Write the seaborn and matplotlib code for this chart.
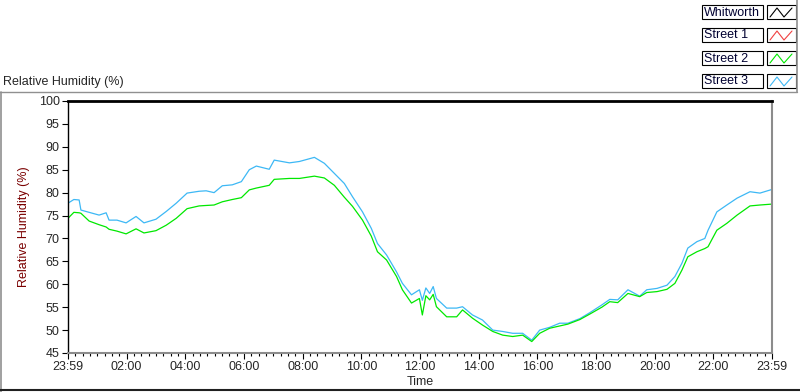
import matplotlib
matplotlib.use("Agg")
import matplotlib.pyplot as plt
from matplotlib.patches import Rectangle
from matplotlib.lines import Line2D
from matplotlib.ticker import MultipleLocator
import seaborn as sns
import pandas as pd

# --- data (hours after 23:59, relative humidity %) ---
HOURS = [0.00, 0.20, 0.38, 0.44, 0.72, 1.06, 1.30, 1.40, 1.67, 1.98,
         2.32, 2.59, 3.00, 3.35, 3.69, 4.06, 4.47, 4.71, 4.98, 5.26,
         5.60, 5.91, 6.18, 6.42, 6.86, 7.03, 7.55, 7.89, 8.40, 8.74,
         9.08, 9.42, 9.70, 10.04, 10.34, 10.55, 10.86, 11.20, 11.40, 11.71,
         11.98, 12.08, 12.20, 12.33, 12.45, 12.56, 12.91, 13.25, 13.45, 13.79,
         14.13, 14.48, 14.82, 15.16, 15.50, 15.81, 16.08, 16.42, 16.76, 17.04,
         17.45, 17.79, 18.20, 18.47, 18.74, 19.09, 19.49, 19.73, 20.08, 20.42,
         20.69, 20.93, 21.13, 21.44, 21.71, 21.82, 22.12, 22.46, 22.81, 23.25,
         23.59, 24.00]

STREET_3 = [77.7, 78.5, 78.4, 76.2, 75.7, 75.1, 75.6, 74.0, 74.0, 73.4,
            74.8, 73.4, 74.2, 75.9, 77.7, 79.9, 80.3, 80.4, 80.0, 81.5,
            81.7, 82.4, 85.0, 85.8, 85.1, 87.1, 86.5, 86.8, 87.7, 86.4,
            84.2, 82.0, 79.1, 75.8, 72.2, 68.9, 66.4, 62.7, 60.2, 57.7,
            58.8, 56.5, 59.2, 58.0, 59.5, 56.9, 54.8, 54.8, 55.1, 53.3,
            52.2, 50.0, 49.7, 49.3, 49.3, 47.8, 50.0, 50.6, 51.5, 51.5,
            52.5, 53.8, 55.5, 56.7, 56.6, 58.8, 57.4, 58.8, 59.1, 59.8,
            61.7, 64.6, 67.9, 69.3, 70.0, 71.8, 75.8, 77.3, 78.8, 80.2,
            79.9, 80.7]

STREET_2 = [74.4, 75.7, 75.6, 75.5, 73.8, 73.0, 72.5, 72.0, 71.6, 71.0,
            72.1, 71.2, 71.7, 72.9, 74.4, 76.5, 77.1, 77.2, 77.3, 78.0,
            78.5, 78.9, 80.6, 81.0, 81.6, 82.9, 83.1, 83.1, 83.6, 83.2,
            81.6, 79.0, 77.0, 74.0, 70.5, 67.1, 65.3, 61.7, 58.8, 55.9,
            56.9, 53.3, 57.5, 56.6, 57.8, 55.1, 52.9, 52.9, 54.4, 52.6,
            51.1, 49.7, 48.9, 48.6, 48.9, 47.5, 49.3, 50.4, 50.9, 51.3,
            52.3, 53.5, 55.0, 56.2, 56.0, 58.0, 57.3, 58.2, 58.4, 58.9,
            60.2, 63.1, 66.0, 67.1, 67.8, 68.2, 71.8, 73.3, 75.1, 77.1,
            77.3, 77.5]

WHITWORTH = []
STREET_1 = []

SERIES = ["Whitworth", "Street 1", "Street 2", "Street 3"]
COLORS = ["#000000", "#F04040", "#00E800", "#3DB8F5"]

X_TICKS = [0, 2, 4, 6, 8, 10, 12, 14, 16, 18, 20, 22, 24]
X_LABELS = ["23:59", "02:00", "04:00", "06:00", "08:00", "10:00", "12:00",
            "14:00", "16:00", "18:00", "20:00", "22:00", "23:59"]
Y_TICKS = [45, 50, 55, 60, 65, 70, 75, 80, 85, 90, 95, 100]

sns.set_style("white")
plt.rcParams['font.family'] = ['Liberation Sans', 'DejaVu Sans']

W, H = 800, 392
fig = plt.figure(figsize=(W / 100, H / 100), dpi=100)
ax = fig.add_axes([68 / W, 1 - 353 / H, (772 - 68) / W, (353 - 101) / H])

values = {"Whitworth": WHITWORTH, "Street 1": STREET_1,
          "Street 2": STREET_2, "Street 3": STREET_3}
rows = []
for name in SERIES:
    for h, v in zip(HOURS, values[name]):
        rows.append({"hour": h, "rh": v, "series": name})
df = pd.DataFrame(rows)
pal = {s: c for s, c in zip(SERIES, COLORS)}

# street 3 first so street 2 sits on top like the original
sns.lineplot(data=df, x="hour", y="rh", hue="series",
             hue_order=["Street 3", "Street 2"], palette=pal,
             linewidth=0.9, legend=False, ax=ax, estimator=None, sort=False)

ax.set_xlim(0, 24)
ax.set_ylim(45, 100)
ax.set_xticks(X_TICKS)
ax.set_xticklabels(X_LABELS)
ax.xaxis.set_minor_locator(MultipleLocator(0.25))
ax.set_yticks(Y_TICKS)
ax.tick_params(axis="both", which="major", direction="out", length=4,
               width=0.8, color="black", labelsize=9, pad=2)
ax.tick_params(axis="x", which="minor", direction="out", length=2.5,
               width=0.8, color="black", bottom=True)
ax.tick_params(axis="y", left=True)
ax.tick_params(axis="x", bottom=True)
ax.set_xlabel("Time", fontsize=9, labelpad=2)
ax.set_ylabel("Relative Humidity (%)", fontsize=9, color="#7A0000", labelpad=6)

for side in ["top", "left", "right", "bottom"]:
    ax.spines[side].set_visible(True)
ax.spines["top"].set_color("black")
ax.spines["top"].set_linewidth(2)
ax.spines["left"].set_color("black")
ax.spines["left"].set_linewidth(1)
ax.spines["right"].set_color("#8C8C8C")
ax.spines["right"].set_linewidth(1.5)
ax.spines["bottom"].set_color("#8C8C8C")
ax.spines["bottom"].set_linewidth(1.5)

def px(x, y):
    return x / W, 1 - y / H

# outer panel frame
fig.add_artist(Line2D([0, 797 / W], [1 - 92 / H] * 2, color="#909090", lw=1))
fig.add_artist(Line2D([1 / W] * 2, [1 - 92 / H, 0], color="#909090", lw=1.2))
fig.add_artist(Line2D([0, 1], [1 - 390 / H] * 2, color="#202020", lw=1.5))
fig.add_artist(Line2D([797 / W] * 2, [1, 1 - 92 / H], color="#909090", lw=1.2))
fig.text(3 / W, 1 - 82 / H, "Relative Humidity (%)", fontsize=9,
         ha="left", va="center")

# legend: label boxes plus zigzag icons
row_tops = [5, 28, 51, 74]
for name, color, top in zip(SERIES, COLORS, row_tops):
    x0, y0 = px(702, top + 14)
    fig.add_artist(Rectangle((x0, y0), 61 / W, 14 / H, facecolor="white",
                             edgecolor="black", lw=0.8))
    fig.text(704 / W, 1 - (top + 7.5) / H, name, fontsize=9,
             ha="left", va="center", color="#000030")
    ix, iy = px(767, top + 14)
    fig.add_artist(Rectangle((ix, iy), 29 / W, 14 / H, facecolor="white",
                             edgecolor="black", lw=0.8))
    zx = [770, 777, 784, 792]
    zy = [top + 12, top + 3, top + 12, top + 3]
    fig.add_artist(Line2D([v / W for v in zx], [1 - v / H for v in zy],
                          color=color, lw=0.8))

fig.savefig("out.png", dpi=100)
